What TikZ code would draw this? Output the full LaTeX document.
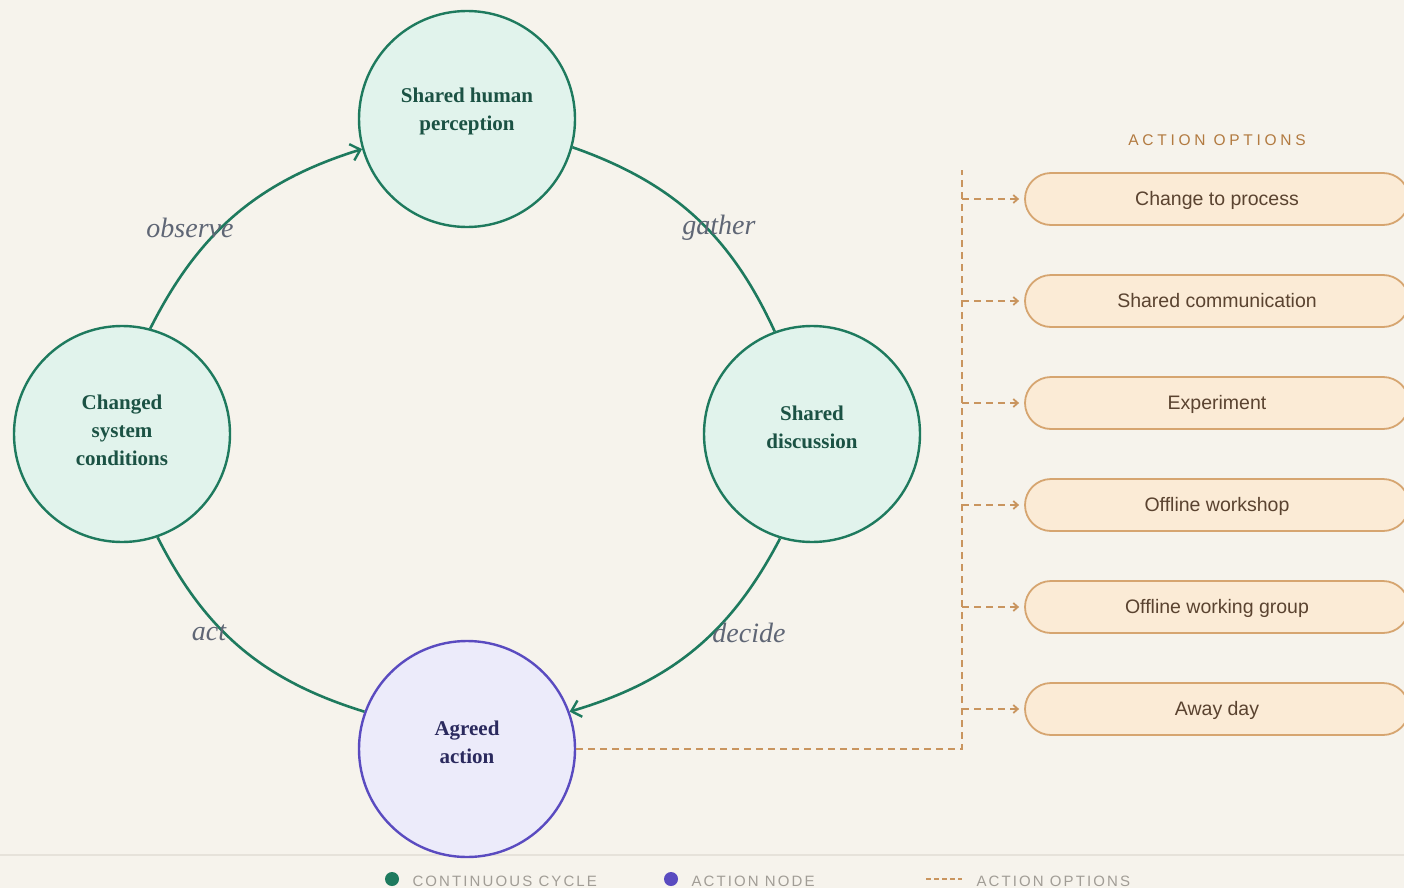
\documentclass[tikz,border=0pt]{standalone}
\usepackage{fontspec}
\setmainfont{Liberation Serif}
\setsansfont{Liberation Sans}
\newfontfamily\spacedhead[LetterSpace=24]{Liberation Sans}
\newfontfamily\spacedleg[LetterSpace=14]{Liberation Sans}
\usetikzlibrary{arrows.meta}
\definecolor{bgc}{HTML}{F6F3EC}
\definecolor{cyc}{HTML}{1E7A5E}
\definecolor{cycfill}{HTML}{E1F3EC}
\definecolor{cyctext}{HTML}{1B5244}
\definecolor{act}{HTML}{5A4BC0}
\definecolor{actfill}{HTML}{ECEBFA}
\definecolor{acttext}{HTML}{2B2A5E}
\definecolor{opt}{HTML}{C9955F}
\definecolor{optfill}{HTML}{FBEBD6}
\definecolor{optdraw}{HTML}{D6A570}
\definecolor{opttext}{HTML}{5A4330}
\definecolor{headc}{HTML}{B27A40}
\definecolor{lab}{HTML}{5F6675}
\definecolor{legc}{HTML}{A19D96}
\definecolor{sep}{HTML}{E6E2DA}
\tikzset{
  x=1pt, y=1pt,
  cyclenode/.style={circle, draw=cyc, fill=cycfill, line width=2.4pt, minimum size=216pt, inner sep=0pt},
  actnode/.style={circle, draw=act, fill=actfill, line width=2.4pt, minimum size=216pt, inner sep=0pt},
  nodetext/.style={align=center, inner sep=0pt, font=\fontsize{21}{28}\selectfont\bfseries},
  cycarc/.style={draw=cyc, line width=2.6pt},
  cyctip/.style={-{Straight Barb[length=9pt,width=17pt,line width=2.4pt]}},
  arclabel/.style={text=lab, font=\fontsize{28}{32}\selectfont\itshape},
  optbox/.style={rounded corners=26pt, draw=optdraw, fill=optfill, line width=1.8pt, minimum width=384pt, minimum height=52pt, text height=15pt, text depth=3pt, text=opttext, font=\sffamily\fontsize{19.5}{23}\selectfont},
  optline/.style={draw=opt, line width=2pt, dash pattern=on 7pt off 5pt},
  opttip/.style={-{Straight Barb[length=4.5pt,width=8pt,line width=1.8pt]}},
}
\begin{document}
\begin{tikzpicture}
\fill[bgc] (0,0) rectangle (1404,-888);
\clip (0,0) rectangle (1404,-888);
\draw[sep, line width=2pt] (0,-855) -- (1404,-855);

% cycle nodes
\node[cyclenode] (T) at (467,-119) {};
\node[cyclenode] (L) at (122,-434) {};
\node[cyclenode] (R) at (812,-434) {};
\node[actnode] (A) at (467,-749) {};
\node[nodetext, text=cyctext] (Tt) at ([yshift=8pt]T.center) {Shared human\\perception};
\node[nodetext, text=cyctext] (Lt) at ([yshift=4pt]L.center) {Changed\\system\\conditions};
\node[nodetext, text=cyctext] (Rt) at ([yshift=7pt]R.center) {Shared\\discussion};
\node[nodetext, text=acttext] (At) at ([yshift=7pt]A.center) {Agreed\\action};

% arcs
\draw[cycarc, cyctip] (L.75) to[bend left=23] (T.196);
\draw[cycarc] (T.-15) to[bend left=23] (R.110);
\draw[cycarc, cyctip] (R.-107) to[bend left=23] (A.20);
\draw[cycarc] (A.160) to[bend left=23] (L.-71);

\node[arclabel] (lobs) at (190,-228) {observe};
\node[arclabel] (lgat) at (719,-228) {gather};
\node[arclabel] (ldec) at (749,-633) {decide};
\node[arclabel] (lact) at (209,-633) {act};

% options
\node[text=headc, font=\spacedhead\fontsize{15.5}{18}\selectfont] (head) at (1217,-140) {ACTION OPTIONS};
\node[optbox] (o1) at (1217,-199) {Change to process};
\node[optbox] (o2) at (1217,-301) {Shared communication};
\node[optbox] (o3) at (1217,-403) {Experiment};
\node[optbox] (o4) at (1217,-505) {Offline workshop};
\node[optbox] (o5) at (1217,-607) {Offline working group};
\node[optbox] (o6) at (1217,-709) {Away day};

\coordinate (corner) at (962,-749);
\coordinate (spinetop) at (962,-170);
\draw[optline] (A.east) -- (corner) -- (spinetop);
\foreach \i in {1,...,6} {
  \draw[optline, opttip, shorten >=5pt] (o\i.west -| corner) -- (o\i.west);
}

% legend
\fill[cyc] (392,-879) circle (7);
\node[anchor=base west, text=legc, font=\spacedleg\fontsize{15}{18}\selectfont] (lg1) at (409,-886) {CONTINUOUS CYCLE};
\fill[act] (671,-879) circle (7);
\node[anchor=base west, text=legc, font=\spacedleg\fontsize{15}{18}\selectfont] (lg2) at (688,-886) {ACTION NODE};
\draw[optline, line width=1.6pt, dash pattern=on 5pt off 3pt] (926,-879) -- (962,-879);
\node[anchor=base west, text=legc, font=\spacedleg\fontsize{15}{18}\selectfont] (lg3) at (973,-886) {ACTION OPTIONS};
\end{tikzpicture}
\end{document}
